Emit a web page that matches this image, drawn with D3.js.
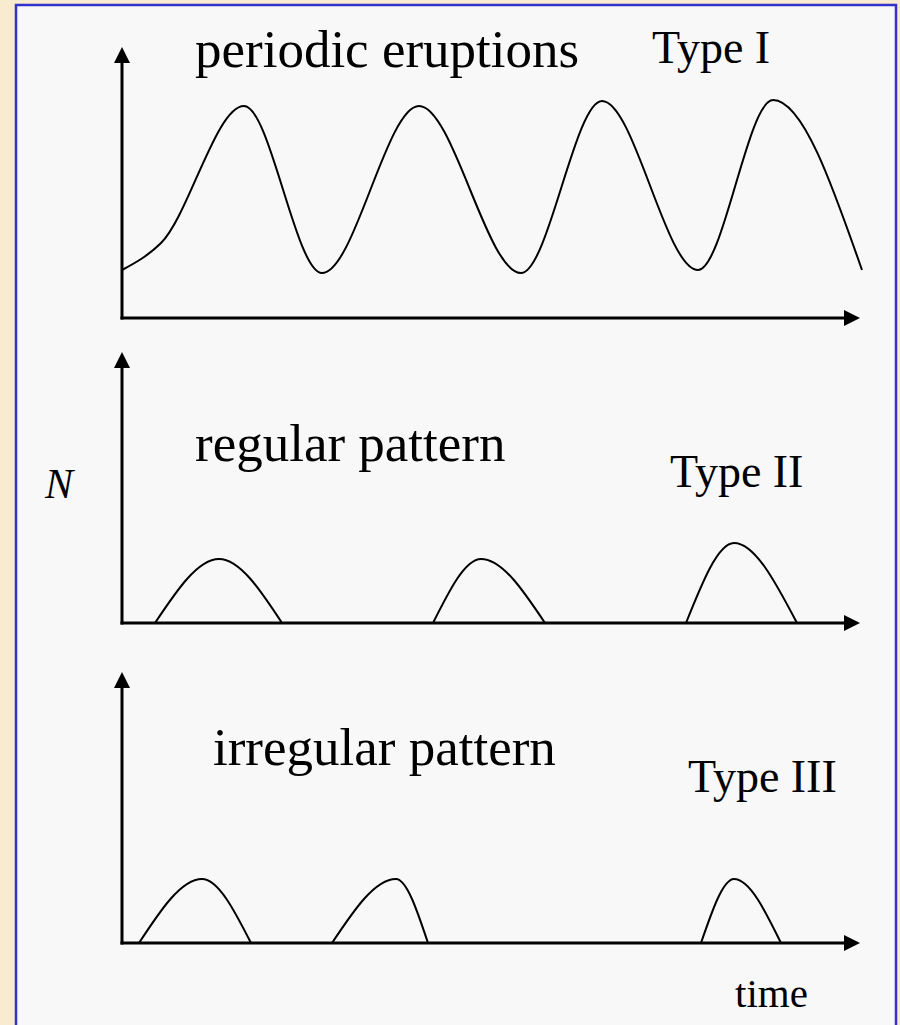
<!DOCTYPE html>
<html>
<head>
<meta charset="utf-8">
<script src="https://cdn.jsdelivr.net/npm/d3@7"></script>
<style>
  html, body { margin: 0; padding: 0; background: #f8ebcf; }
  svg { display: block; }
</style>
</head>
<body>
<svg id="chart" width="900" height="1025"></svg>
<script>
// ---- data (time units along the axis, N units up from the axis) ----
const periodicTime = [0, 39, 122, 200, 297, 399, 480, 576, 651, 740];
const periodicN    = [48, 75, 212, 45, 212, 45, 217, 48, 218, 48];

// null separates the individual outbreaks
const regularTime = [33, 97, 160, null, 311, 359, 423, null, 564, 612, 675];
const regularN    = [0, 64, 0, null, 0, 64, 0, null, 0, 80, 0];

const irregularTime = [17, 80, 129, null, 210, 274, 306, null, 579, 612, 659];
const irregularN    = [0, 64, 0, null, 0, 64, 0, null, 0, 64, 0];

const panelTitles = ["periodic eruptions", "regular pattern", "irregular pattern"];
const panelTypes  = ["Type I", "Type II", "Type III"];
const yLabel = "N";
const xLabel = "time";

// ---- layout ----
const svg = d3.select("#chart");
const serif = "'Liberation Serif', 'Times New Roman', Times, serif";

svg.append("rect").attr("x", 0).attr("y", 0).attr("width", 900).attr("height", 1025).attr("fill", "#f8ebcf");
svg.append("rect").attr("x", 16).attr("y", 5).attr("width", 880).attr("height", 1040)
  .attr("fill", "#f8f8f8").attr("stroke", "#3333cc").attr("stroke-width", 2.5);

const x = d3.scaleLinear().domain([0, 740]).range([122, 862]);
const axisTop = 271;

const panels = [
  { base: 318, time: periodicTime, n: periodicN,
    title: { x: 195, y: 67, size: 53 }, type: { x: 652, y: 63, size: 46 } },
  { base: 623, time: regularTime, n: regularN,
    title: { x: 195, y: 461, size: 53 }, type: { x: 670, y: 487, size: 46 } },
  { base: 943, time: irregularTime, n: irregularN,
    title: { x: 213, y: 765, size: 53 }, type: { x: 688, y: 792, size: 46 } }
];

panels.forEach((p, i) => {
  const y = d3.scaleLinear().domain([0, axisTop]).range([p.base, p.base - axisTop]);
  const g = svg.append("g");

  // y axis with arrow
  const yTip = y(axisTop);
  g.append("line").attr("x1", x(0)).attr("x2", x(0)).attr("y1", y(0) + 1.5).attr("y2", yTip + 12)
    .attr("stroke", "#000").attr("stroke-width", 3);
  g.append("path").attr("d", `M${x(0)},${yTip} L${x(0) - 8},${yTip + 16} L${x(0) + 8},${yTip + 16} Z`)
    .attr("fill", "#000");

  // x axis with arrow
  const xTip = x(740) - 2;
  g.append("line").attr("x1", x(0) - 1.5).attr("x2", xTip - 12).attr("y1", y(0)).attr("y2", y(0))
    .attr("stroke", "#000").attr("stroke-width", 3);
  g.append("path").attr("d", `M${xTip},${y(0)} L${xTip - 16},${y(0) - 8} L${xTip - 16},${y(0) + 8} Z`)
    .attr("fill", "#000");

  // series
  const pts = p.time.map((t, k) => [t, p.n[k]]);
  const line = d3.line()
    .defined(d => d[0] !== null)
    .x(d => x(d[0])).y(d => y(d[1]))
    .curve(d3.curveMonotoneX);
  g.append("path").datum(pts).attr("d", line)
    .attr("fill", "none").attr("stroke", "#000").attr("stroke-width", 2);

  // labels
  g.append("text").attr("x", p.title.x).attr("y", p.title.y)
    .attr("font-family", serif).attr("font-size", p.title.size).attr("fill", "#000")
    .text(panelTitles[i]);
  g.append("text").attr("x", p.type.x).attr("y", p.type.y)
    .attr("font-family", serif).attr("font-size", p.type.size).attr("fill", "#000")
    .text(panelTypes[i]);
});

svg.append("text").attr("x", 45).attr("y", 498)
  .attr("font-family", serif).attr("font-style", "italic").attr("font-size", 42).attr("fill", "#000")
  .text(yLabel);
svg.append("text").attr("x", 735).attr("y", 1007)
  .attr("font-family", serif).attr("font-size", 41).attr("fill", "#000")
  .text(xLabel);
</script>
</body>
</html>
